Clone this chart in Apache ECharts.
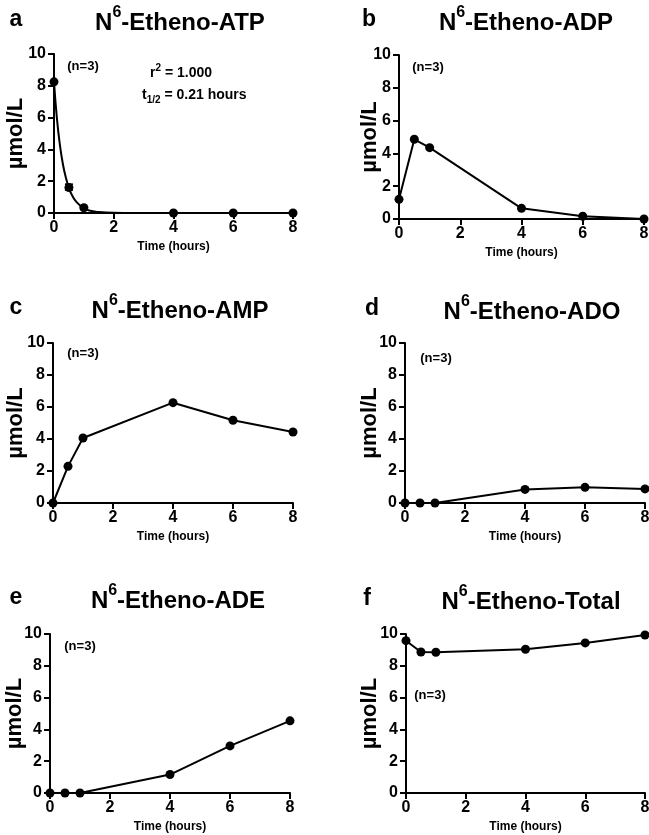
<!DOCTYPE html>
<html>
<head>
<meta charset="utf-8">
<script src="https://cdn.jsdelivr.net/npm/echarts@6/dist/echarts.min.js"></script>
<style>
  html, body { margin: 0; padding: 0; background: #fff; }
  #chart { width: 649px; height: 835px; }
</style>
</head>
<body>
<div id="chart"></div>
<script>
// sampling times (hours)
const hours = [0, 0.5, 1, 4, 6, 8];

// µmol/L
const atp = [8.25, 1.6, 0.33, 0, 0, 0];
const atpErrLow = [8.25, 1.45, 0.3, 0, 0, 0];
const atpErrHigh = [8.25, 1.8, 0.38, 0, 0, 0];
const atpFitHours = [0, 0.1, 0.2, 0.3, 0.4, 0.5, 0.6, 0.75, 1, 1.25, 1.5, 2, 2.5, 3, 4, 6, 8];
const atpFit = [8.25, 5.9, 4.25, 3.05, 2.2, 1.58, 1.13, 0.7, 0.3, 0.13, 0.06, 0.012, 0.003, 0, 0, 0, 0];
const adp = [1.2, 4.86, 4.35, 0.65, 0.17, 0];
const amp = [0, 2.29, 4.06, 6.27, 5.17, 4.44];
const ado = [0, 0, 0, 0.85, 0.98, 0.88];
const ade = [0, 0, 0, 1.16, 2.96, 4.54];
const total = [9.58, 8.87, 8.85, 9.04, 9.44, 9.94];

const panelLetters = ['a', 'b', 'c', 'd', 'e', 'f'];
const panelNames = ['-Etheno-ATP', '-Etheno-ADP', '-Etheno-AMP', '-Etheno-ADO', '-Etheno-ADE', '-Etheno-Total'];
const xTicks = [0, 2, 4, 6, 8];
const yTicks = [0, 2, 4, 6, 8, 10];

const FONT = '"Liberation Sans", Arial, sans-serif';

const grids = [
  { left: 54, top: 54, width: 239, height: 159 },
  { left: 399, top: 55, width: 245, height: 164 },
  { left: 53, top: 343, width: 240, height: 160 },
  { left: 405, top: 343, width: 240, height: 160 },
  { left: 50, top: 634, width: 240, height: 159 },
  { left: 406, top: 634, width: 239, height: 159 }
].map(g => Object.assign({ outerBoundsMode: 'none', containLabel: false }, g));

// gap between each y axis and its "µmol/L" label
const yNameGaps = [27, 18, 26, 24, 24, 25];

const pair = (xs, ys) => xs.map((x, i) => [x, ys[i]]);

const xAxes = grids.map((g, i) => ({
  type: 'value', gridIndex: i, min: xTicks[0], max: xTicks[xTicks.length - 1], interval: 2,
  name: 'Time (hours)',
  nameLocation: 'middle', nameGap: 28, nameMoveOverlap: false,
  nameTextStyle: { fontFamily: FONT, fontWeight: 'bold', fontSize: 12, color: '#000' },
  axisLine: { onZero: false, lineStyle: { color: '#000', width: 2 } },
  axisTick: { length: 6, lineStyle: { color: '#000', width: 2 } },
  axisLabel: { fontFamily: FONT, fontWeight: 'bold', fontSize: 16, color: '#000', margin: 7 },
  splitLine: { show: false }
}));

const yAxes = grids.map((g, i) => ({
  type: 'value', gridIndex: i, min: yTicks[0], max: yTicks[yTicks.length - 1], interval: 2,
  name: 'µmol/L', nameLocation: 'middle', nameGap: yNameGaps[i], nameRotate: 90,
  nameMoveOverlap: false,
  nameTextStyle: { fontFamily: FONT, fontWeight: 'bold', fontSize: 22, color: '#000' },
  axisLine: { lineStyle: { color: '#000', width: 2 } },
  axisTick: { length: 6, lineStyle: { color: '#000', width: 2 } },
  axisLabel: { fontFamily: FONT, fontWeight: 'bold', fontSize: 16, color: '#000', margin: 8 },
  splitLine: { show: false }
}));

const lineSeries = (idx, ys) => ({
  type: 'line', xAxisIndex: idx, yAxisIndex: idx,
  data: pair(hours, ys),
  symbol: 'circle', symbolSize: 9,
  itemStyle: { color: '#000', opacity: 1 },
  lineStyle: { color: '#000', width: 2 },
  clip: false, silent: true
});

const series = [
  {
    type: 'line', xAxisIndex: 0, yAxisIndex: 0,
    data: pair(atpFitHours, atpFit), smooth: true, showSymbol: false,
    lineStyle: { color: '#000', width: 2 }, silent: true
  },
  {
    type: 'custom', xAxisIndex: 0, yAxisIndex: 0,
    data: hours.map((h, i) => [h, atpErrLow[i], atpErrHigh[i]]),
    renderItem: (params, api) => {
      const lo = api.coord([api.value(0), api.value(1)]);
      const hi = api.coord([api.value(0), api.value(2)]);
      const w = 4;
      const st = { stroke: '#000', lineWidth: 2 };
      return { type: 'group', children: [
        { type: 'line', shape: { x1: lo[0], y1: lo[1], x2: hi[0], y2: hi[1] }, style: st },
        { type: 'line', shape: { x1: lo[0] - w, y1: lo[1], x2: lo[0] + w, y2: lo[1] }, style: st },
        { type: 'line', shape: { x1: hi[0] - w, y1: hi[1], x2: hi[0] + w, y2: hi[1] }, style: st }
      ] };
    },
    silent: true
  },
  {
    type: 'scatter', xAxisIndex: 0, yAxisIndex: 0,
    data: pair(hours, atp), symbol: 'circle', symbolSize: 9,
    itemStyle: { color: '#000', opacity: 1 }, clip: false, silent: true
  },
  lineSeries(1, adp),
  lineSeries(2, amp),
  lineSeries(3, ado),
  lineSeries(4, ade),
  lineSeries(5, total)
];

// titles and annotations
const titlePos = [[180, 20], [526, 20], [180, 308], [532, 309], [178, 598], [531, 599]];
const letterPos = [[16, 20], [369, 20], [16, 308], [372, 309], [16, 598], [367, 599]];
const nPos = [[83, 66], [428, 67], [83, 353], [436, 358], [80, 646], [430, 695]];

const richTitle = {
  b: { fontFamily: FONT, fontWeight: 'bold', fontSize: 24, lineHeight: 30, verticalAlign: 'bottom', fill: '#000' },
  sup: { fontFamily: FONT, fontWeight: 'bold', fontSize: 16, lineHeight: 30, verticalAlign: 'top', fill: '#000' }
};

const graphic = [];
panelNames.forEach((name, i) => {
  graphic.push({
    type: 'text', x: titlePos[i][0], y: titlePos[i][1], silent: true,
    style: {
      text: '{b|N}{sup|6}{b|' + name + '}', rich: richTitle,
      align: 'center', verticalAlign: 'middle', fill: '#000'
    }
  });
  graphic.push({
    type: 'text', x: letterPos[i][0], y: letterPos[i][1], silent: true,
    style: {
      text: panelLetters[i], font: 'bold 23px ' + FONT,
      align: 'center', verticalAlign: 'middle', fill: '#000'
    }
  });
  graphic.push({
    type: 'text', x: nPos[i][0], y: nPos[i][1], silent: true,
    style: {
      text: '(n=3)', font: 'bold 13px ' + FONT,
      align: 'center', verticalAlign: 'middle', fill: '#000'
    }
  });
});

const richNote = {
  t: { fontFamily: FONT, fontWeight: 'bold', fontSize: 14, lineHeight: 20, verticalAlign: 'middle', fill: '#000' },
  sup: { fontFamily: FONT, fontWeight: 'bold', fontSize: 10, lineHeight: 20, verticalAlign: 'top', fill: '#000' },
  sub: { fontFamily: FONT, fontWeight: 'bold', fontSize: 10, lineHeight: 20, verticalAlign: 'bottom', fill: '#000' }
};
graphic.push({
  type: 'text', x: 150, y: 73, silent: true,
  style: { text: '{t|r}{sup|2}{t| = 1.000}', rich: richNote, align: 'left', verticalAlign: 'middle' }
});
graphic.push({
  type: 'text', x: 142, y: 95, silent: true,
  style: { text: '{t|t}{sub|1/2}{t| = 0.21 hours}', rich: richNote, align: 'left', verticalAlign: 'middle' }
});

const option = {
  backgroundColor: '#fff',
  animation: false,
  grid: grids,
  xAxis: xAxes,
  yAxis: yAxes,
  series: series,
  graphic: graphic
};

const myChart = echarts.init(document.getElementById('chart'), null, { renderer: 'canvas' });
myChart.setOption(option);
</script>
</body>
</html>
